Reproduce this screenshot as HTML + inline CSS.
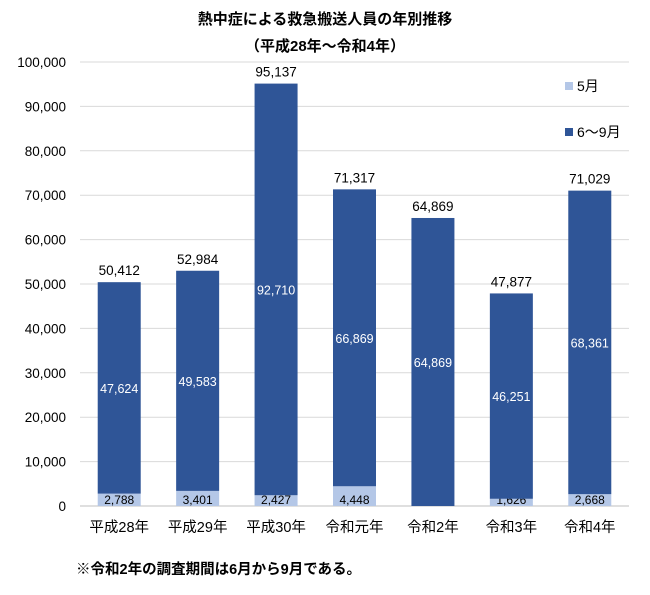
<!DOCTYPE html>
<html><head><meta charset="utf-8"><style>
body{margin:0;background:#fff;}
svg{display:block;font-family:"Liberation Sans","Noto Sans CJK JP",sans-serif;}
</style></head><body>
<svg id="c" width="650" height="595"></svg>
<script>
const categories=["平成28年","平成29年","平成30年","令和元年","令和2年","令和3年","令和4年"];
const mayValues=[2788,3401,2427,4448,0,1626,2668];
const summerValues=[47624,49583,92710,66869,64869,46251,68361];
const totalLabels=["50,412","52,984","95,137","71,317","64,869","47,877","71,029"];
const yTicks=[0,10000,20000,30000,40000,50000,60000,70000,80000,90000,100000];
const NS="http://www.w3.org/2000/svg";
const svg=document.getElementById('c');
const x0=80,x1=629,yZero=506,yTop=62,yMax=100000;
const y=v=>yZero-(v/yMax)*(yZero-yTop);
const band=(x1-x0)/categories.length;
const xc=i=>x0+band*(i+0.5);
const bw=43;
function el(t,a,txt){const e=document.createElementNS(NS,t);for(const k in a)e.setAttribute(k,a[k]);if(txt!==undefined)e.textContent=txt;svg.appendChild(e);return e;}
const fmt=v=>v.toLocaleString('en-US');
let t=el('text',{x:325,y:24,'text-anchor':'middle','font-size':15,'font-weight':'bold',fill:'#000'},'熱中症による救急搬送人員の年別推移');


t=el('text',{x:325,y:51,'text-anchor':'middle','font-size':15,'font-weight':'bold',fill:'#000'},'（平成28年～令和4年）');


yTicks.forEach(v=>{
  const g=el('line',{x1:x0,x2:x1,y1:y(v),y2:y(v),stroke:v===0?'#bfbfbf':'#d9d9d9','stroke-width':1});
  
  
  const l=el('text',{x:66,y:y(v)+5,'text-anchor':'end','font-size':13.5,fill:'#000'},fmt(v));
  
  
});
categories.forEach((c,i)=>{
  const cx=xc(i);
  const m=mayValues[i],s=summerValues[i];
  if(m>0){
    const r=el('rect',{x:cx-bw/2,y:y(m),width:bw,height:y(0)-y(m),fill:'#B4C7E7'});
    
    
    const l=el('text',{x:cx,y:y(0)-2,'text-anchor':'middle','font-size':12,fill:'#000'},fmt(m));
    
    
  }
  const r2=el('rect',{x:cx-bw/2,y:y(m+s),width:bw,height:y(m)-y(m+s),fill:'#2F5597'});
  
  
  const l2=el('text',{x:cx,y:(y(m)+y(m+s))/2+5,'text-anchor':'middle','font-size':12.5,fill:'#fff'},fmt(s));
  
  
  const l3=el('text',{x:cx,y:y(m+s)-7,'text-anchor':'middle','font-size':13.5,fill:'#000'},totalLabels[i]);
  
  
  const l4=el('text',{x:cx,y:532,'text-anchor':'middle','font-size':14.5,fill:'#000'},c);
  
  
});
let lg=el('rect',{x:565,y:82,width:8,height:8,fill:'#B4C7E7'});


lg=el('text',{x:577,y:91,'font-size':14,fill:'#000'},'5月');


lg=el('rect',{x:565,y:128,width:8,height:8,fill:'#2F5597'});


lg=el('text',{x:577,y:137,'font-size':14,fill:'#000'},'6～9月');


t=el('text',{x:76,y:574,'font-size':14.5,'font-weight':'bold',fill:'#000'},'※令和2年の調査期間は6月から9月である。');


</script>
</body></html>
